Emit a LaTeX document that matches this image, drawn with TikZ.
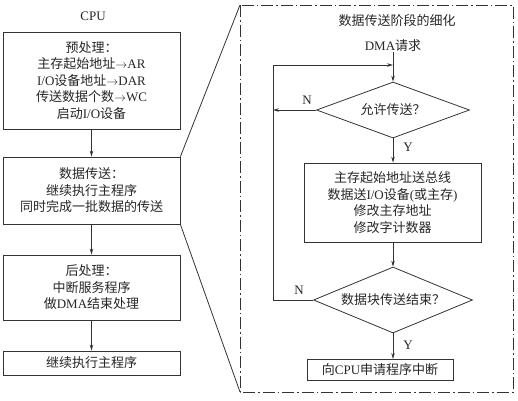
\documentclass[tikz,border=0pt]{standalone}
\usepackage{fontspec}
\setmainfont{Liberation Serif}
\newfontfamily\cjk{Noto Sans CJK SC}
\newfontfamily\lat{Liberation Serif}
\usetikzlibrary{shapes.geometric,arrows.meta}
\XeTeXinterchartokenstate=1
\newXeTeXintercharclass\cjkcls
\newcount\cjkcc
\cjkcc="4E00
\loop \XeTeXcharclass\cjkcc=\cjkcls \ifnum\cjkcc<"9FFF \advance\cjkcc by 1 \repeat
\XeTeXcharclass"FF1A=\cjkcls
\XeTeXcharclass"FF1F=\cjkcls
\XeTeXinterchartoks 0 \cjkcls = {\cjk}
\XeTeXinterchartoks 4095 \cjkcls = {\cjk}
\XeTeXinterchartoks \cjkcls 0 = {\lat}
\XeTeXinterchartoks \cjkcls 4095 = {\lat}
\tikzset{
  txt/.style={font=\fontsize{13}{16.5}\selectfont, align=center, inner sep=0pt, text=black!85},
  box/.style={txt, draw=black!80, line width=0.8pt, rectangle},
  dec/.style={txt, draw=black!80, line width=0.8pt, diamond},
  lbl/.style={txt},
  ln/.style={draw=black!80, line width=0.8pt},
  arr/.style={ln, -{Stealth[length=6pt,width=3.5pt]}},
  dashdot/.style={draw=black!80, line width=0.8pt, dash pattern=on 12pt off 3pt on 1.5pt off 3pt}
}
\begin{document}
\begin{tikzpicture}[x=1pt,y=-1pt]
\useasboundingbox (0,0) rectangle (518,400);
% left column
\node[lbl] (cpu) at (93,16) {CPU};
\node[box, minimum width=177pt, minimum height=97pt] (b1) at (91.5,80.5)
  {预处理：\\主存起始地址$\rightarrow$AR\\I/O设备地址$\rightarrow$DAR\\传送数据个数$\rightarrow$WC\\启动I/O设备};
\node[box, minimum width=177pt, minimum height=67pt] (b2) at (91.5,190.5)
  {数据传送：\\继续执行主程序\\同时完成一批数据的传送};
\node[box, minimum width=177pt, minimum height=65pt] (b3) at (91.5,287.5)
  {后处理：\\中断服务程序\\做DMA结束处理};
\node[box, minimum width=177pt, minimum height=24pt] (b4) at (91.5,363)
  {继续执行主程序};
\draw[arr] (b1) -- (b2);
\draw[arr] (b2) -- (b3);
\draw[arr] (b3) -- (b4);
% detail frame
\coordinate (ftl) at (240,5);
\coordinate (fbr) at (513,392);
\coordinate (fbl) at (240,392);
\draw[dashdot] (ftl) rectangle (fbr);
\draw[ln] (b2.north east) -- (ftl);
\draw[ln] (b2.south east) -- (fbl);
\node[lbl] (title) at (397,21) {数据传送阶段的细化};
\node[lbl] (dma) at (393,46) {DMA请求};
\node[dec, minimum width=153pt, minimum height=56pt, aspect=2.7] (d1) at (393,110) {允许传送？};
\node[box, minimum width=177pt, minimum height=79pt] (p) at (392.5,202.5)
  {主存起始地址送总线\\数据送I/O设备(或主存)\\修改主存地址\\修改字计数器};
\node[dec, minimum width=159pt, minimum height=66pt, aspect=2.4] (d2) at (393,300) {数据块传送结束？};
\node[box, minimum width=146pt, minimum height=21pt] (f) at (380,369.5) {向CPU申请程序中断};
\coordinate (j) at (393,65);
\coordinate (lt) at (273,65);
\coordinate (lm) at (273,110);
\coordinate (lb) at (273,300);
\coordinate (fin) at (393,359);
\draw[arr] (dma.south) -- (d1.north);
\draw[arr] (d1.south) -- (p.north -| d1.south);
\draw[arr] (p.south -| d2.north) -- (d2.north);
\draw[arr] (d2.south) -- (fin);
\draw[arr] (d1.west) -- (lm);
\draw[arr] (d2.west) -- (lb) -- (lt) -- (j);
\node[lbl] (n1) at (307,100) {N};
\node[lbl] (n2) at (299,290) {N};
\node[lbl] (y1) at (408,147) {Y};
\node[lbl] (y2) at (408,345) {Y};
\end{tikzpicture}
\end{document}
